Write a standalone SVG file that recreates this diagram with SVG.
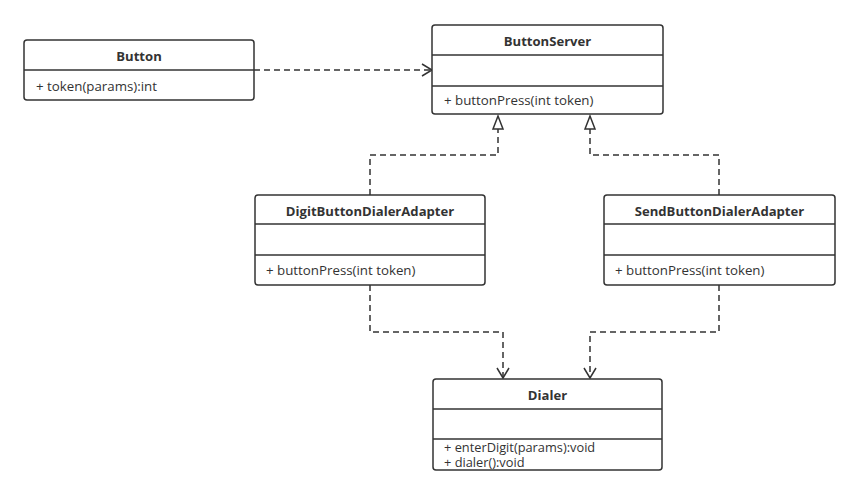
<svg xmlns="http://www.w3.org/2000/svg" width="859" height="496" viewBox="0 0 859 496">
<style>
.box{fill:#fff;stroke:#333;stroke-width:1.5}
.div{stroke:#333;stroke-width:1.5}
.t{font-family:"Open Sans","Noto Sans",sans-serif;font-size:13.1px;font-weight:bold;fill:#333;text-anchor:middle}
.m{font-family:"Open Sans","Noto Sans",sans-serif;font-size:13.3px;fill:#333}
.s{font-family:"Open Sans","Noto Sans",sans-serif;font-size:12.8px;fill:#333}
.c{fill:none;stroke:#333;stroke-width:1.5;stroke-dasharray:6,4}
</style>
<defs>
<marker id="open" markerWidth="14" markerHeight="14" refX="12" refY="7" orient="auto" markerUnits="userSpaceOnUse">
<path d="M2,1 L12,7 L2,13" fill="none" stroke="#333" stroke-width="1.5"/>
</marker>
<marker id="tri" markerWidth="16" markerHeight="16" refX="14" refY="8" orient="auto" markerUnits="userSpaceOnUse">
<path d="M1,3 L14,8 L1,13 Z" fill="#fff" stroke="#333" stroke-width="1.5"/>
</marker>
</defs>
<g id="connectors">
<path class="c" d="M254,70 H432" marker-end="url(#open)"/>
<path class="c" d="M370,195 V155 H498 V116" marker-end="url(#tri)"/>
<path class="c" d="M719,195 V155 H590 V116" marker-end="url(#tri)"/>
<path class="c" d="M370,285 V332 H503 V378" marker-end="url(#open)"/>
<path class="c" d="M719,285 V332 H590 V378" marker-end="url(#open)"/>
</g>
<g id="Button">
<rect class="box" x="24" y="40" width="230" height="60" rx="3"/>
<line class="div" x1="24" y1="70" x2="254" y2="70"/>
<text class="t" x="139" y="61">Button</text>
<text class="m" x="36" y="91">+ token(params):int</text>
</g>
<g id="ButtonServer">
<rect class="box" x="432" y="25" width="231" height="89" rx="3"/>
<line class="div" x1="432" y1="55" x2="663" y2="55"/>
<line class="div" x1="432" y1="86" x2="663" y2="86"/>
<text class="t" x="547.5" y="46">ButtonServer</text>
<text class="m" x="444" y="105">+ buttonPress(int token)</text>
</g>
<g id="DigitButtonDialerAdapter">
<rect class="box" x="255" y="195" width="230" height="90" rx="3"/>
<line class="div" x1="255" y1="224" x2="485" y2="224"/>
<line class="div" x1="255" y1="255" x2="485" y2="255"/>
<text class="t" x="370" y="216">DigitButtonDialerAdapter</text>
<text class="m" x="266" y="275">+ buttonPress(int token)</text>
</g>
<g id="SendButtonDialerAdapter">
<rect class="box" x="604" y="195" width="231" height="90" rx="3"/>
<line class="div" x1="604" y1="224" x2="835" y2="224"/>
<line class="div" x1="604" y1="255" x2="835" y2="255"/>
<text class="t" x="719.5" y="216">SendButtonDialerAdapter</text>
<text class="m" x="615" y="275">+ buttonPress(int token)</text>
</g>
<g id="Dialer">
<rect class="box" x="433" y="379" width="229" height="91" rx="3"/>
<line class="div" x1="433" y1="409" x2="662" y2="409"/>
<line class="div" x1="433" y1="439" x2="662" y2="439"/>
<text class="t" x="547.5" y="400">Dialer</text>
<text class="s" x="444" y="452">+ enterDigit(params):void</text>
<text class="s" x="444" y="467">+ dialer():void</text>
</g>
</svg>
